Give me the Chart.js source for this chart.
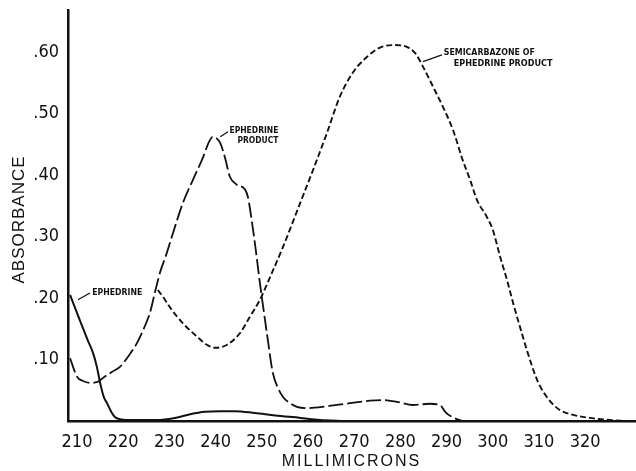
<!DOCTYPE html>
<html>
<head>
<meta charset="utf-8">
<script src="https://cdn.jsdelivr.net/npm/chart.js@4.4.1/dist/chart.umd.min.js"></script>
<style>
  html, body { margin: 0; padding: 0; background: #ffffff; }
  #wrap { width: 636px; height: 471px; }
</style>
</head>
<body>
<div id="wrap"><canvas id="c" width="636" height="471"></canvas></div>
<script>
// ---- Data (wavelength in millimicrons, absorbance) ----
const ephedrineWl = [208.5, 210.6, 212.4, 213.5, 214.3, 215.0, 215.8, 216.5, 217.4, 218.2, 220.0, 223.6, 227.3, 231.2, 234.5, 237.7, 241.0, 244.2, 248.5, 252.9, 258.3, 262.6, 268.0];
const ephedrineAbs = [0.205, 0.164, 0.130, 0.110, 0.088, 0.062, 0.039, 0.029, 0.015, 0.0065, 0.002, 0.0015, 0.0015, 0.005, 0.011, 0.015, 0.016, 0.016, 0.013, 0.009, 0.005, 0.0015, 0.0];

const productWl = [208.5, 210.0, 211.3, 212.8, 214.3, 215.6, 217.6, 219.3, 221.0, 223.0, 224.5, 225.8, 226.9, 228.0, 229.3, 230.8, 232.9, 235.1, 237.3, 238.6, 239.4, 240.3, 241.0, 242.0, 243.1, 244.6, 246.4, 247.0, 247.9, 248.7, 249.6, 250.0, 251.1, 252.4, 253.5, 254.6, 256.1, 257.6, 259.8, 264.1, 269.1, 273.4, 276.2, 279.3, 282.7, 286.4, 288.6, 289.7, 291.2, 293.5];
const productAbs = [0.102, 0.072, 0.065, 0.062, 0.063, 0.070, 0.080, 0.088, 0.104, 0.127, 0.151, 0.176, 0.210, 0.242, 0.270, 0.306, 0.354, 0.392, 0.429, 0.454, 0.462, 0.459, 0.452, 0.429, 0.397, 0.384, 0.376, 0.364, 0.322, 0.278, 0.224, 0.202, 0.143, 0.078, 0.054, 0.039, 0.029, 0.023, 0.021, 0.024, 0.029, 0.033, 0.034, 0.031, 0.026, 0.028, 0.026, 0.015, 0.0065, 0.0];

const semicarbWl = [227.5, 228.8, 230.1, 232.9, 236.0, 238.1, 239.9, 242.5, 245.3, 247.4, 249.6, 251.8, 254.6, 258.3, 261.1, 264.1, 266.9, 269.7, 272.8, 275.6, 278.8, 281.4, 283.2, 284.9, 287.1, 289.2, 291.4, 293.5, 295.1, 296.6, 298.7, 300.0, 301.6, 303.1, 304.4, 305.9, 307.4, 309.6, 311.7, 314.5, 317.4, 321.0, 324.7, 329.0];
const semicarbAbs = [0.213, 0.200, 0.185, 0.159, 0.137, 0.124, 0.119, 0.124, 0.143, 0.169, 0.197, 0.234, 0.283, 0.354, 0.408, 0.468, 0.527, 0.566, 0.592, 0.607, 0.611, 0.608, 0.598, 0.576, 0.543, 0.511, 0.473, 0.424, 0.392, 0.359, 0.332, 0.311, 0.267, 0.229, 0.192, 0.153, 0.115, 0.067, 0.039, 0.018, 0.010, 0.005, 0.002, 0.0];

const xTickValues = [210, 220, 230, 240, 250, 260, 270, 280, 290, 300, 310, 320];
const yTickValues = [0.1, 0.2, 0.3, 0.4, 0.5, 0.6];
const yTickLabels = ['.10', '.20', '.30', '.40', '.50', '.60'];

const xTitle = 'MILLIMICRONS';
const yTitle = 'ABSORBANCE';

const annotations = [
  { lines: ['EPHEDRINE'], leader: [[210.2, 0.197], [212.8, 0.208]], at: [213.3, 0.209], widths: [50], align: 'left' },
  { lines: ['EPHEDRINE', 'PRODUCT'], leader: [[241.0, 0.462], [242.7, 0.470]], at: [243.0, 0.472], widths: [49, 41], align: 'rightblock' },
  { lines: ['SEMICARBAZONE OF', 'EPHEDRINE PRODUCT'], leader: [[284.9, 0.584], [289.0, 0.595]], at: [289.4, 0.598], widths: [91, 99], indent: [0, 10], align: 'left' }
];

// ---- helpers ----
function zip(xs, ys) { return xs.map((x, i) => ({ x: x, y: ys[i] })); }

const tickFont = "'Liberation Sans Narrow', 'Arial Narrow', 'DejaVu Sans Condensed', sans-serif";
const titleFont = "'Liberation Sans', Arial, Helvetica, sans-serif";
const noteFont = "'DejaVu Sans Condensed', 'Liberation Sans Narrow', sans-serif";

const titleSpacing = { x: '2px', y: '1px' };
const titleShift = { x: [0, 0], y: [9, 4] };

const patchTitles = {
  id: 'patchTitles',
  beforeDraw(chart) {
    ['x', 'y'].forEach(id => {
      const s = chart.scales[id];
      if (s && !s._patched) {
        const orig = s.drawTitle;
        s.drawTitle = function () {
          const ctx = this.ctx;
          ctx.save();
          try { ctx.letterSpacing = titleSpacing[id]; } catch (e) {}
          ctx.translate(titleShift[id][0], titleShift[id][1]);
          orig.apply(this, arguments);
          ctx.restore();
        };
        s._patched = true;
      }
    });
  }
};

const notesPlugin = {
  id: 'notes',
  afterDatasetsDraw(chart) {
    const ctx = chart.ctx;
    const xs = chart.scales.x, ys = chart.scales.y;
    ctx.save();
    annotations.forEach(a => {
      ctx.strokeStyle = '#111';
      ctx.lineWidth = 1.3;
      ctx.beginPath();
      ctx.moveTo(xs.getPixelForValue(a.leader[0][0]), ys.getPixelForValue(a.leader[0][1]));
      ctx.lineTo(xs.getPixelForValue(a.leader[1][0]), ys.getPixelForValue(a.leader[1][1]));
      ctx.stroke();
      ctx.fillStyle = '#111';
      ctx.font = 'bold 9px ' + noteFont;
      ctx.textBaseline = 'middle';
      const px = xs.getPixelForValue(a.at[0]);
      const py = ys.getPixelForValue(a.at[1]);
      a.lines.forEach((t, i) => {
        const w = a.widths[i];
        const y = py + i * 10.5;
        if (a.align === 'rightblock') {
          const right = px + a.widths[0];
          ctx.textAlign = 'right';
          ctx.fillText(t, right, y, w);
        } else {
          ctx.textAlign = 'left';
          const ind = a.indent ? a.indent[i] : 0;
          ctx.fillText(t, px + ind, y, w);
        }
      });
    });
    ctx.restore();
  }
};

const whiteBg = {
  id: 'whiteBg',
  beforeDraw(chart) {
    const ctx = chart.ctx;
    ctx.save();
    ctx.fillStyle = '#ffffff';
    ctx.fillRect(0, 0, chart.width, chart.height);
    ctx.restore();
  }
};

new Chart(document.getElementById('c'), {
  type: 'line',
  data: {
    datasets: [
      {
        label: 'Ephedrine',
        data: zip(ephedrineWl, ephedrineAbs),
        borderColor: '#111',
        borderWidth: 2,
        pointRadius: 0,
        cubicInterpolationMode: 'monotone',
        fill: false
      },
      {
        label: 'Ephedrine product',
        data: zip(productWl, productAbs),
        borderColor: '#111',
        borderWidth: 1.8,
        borderDash: [15, 4],
        pointRadius: 0,
        cubicInterpolationMode: 'monotone',
        fill: false
      },
      {
        label: 'Semicarbazone of ephedrine product',
        data: zip(semicarbWl, semicarbAbs),
        borderColor: '#111',
        borderWidth: 1.9,
        borderDash: [6, 3],
        pointRadius: 0,
        cubicInterpolationMode: 'monotone',
        fill: false
      }
    ]
  },
  options: {
    responsive: false,
    animation: false,
    devicePixelRatio: 1,
    layout: { padding: { left: 0, top: 10, right: 1, bottom: 0 } },
    plugins: { legend: { display: false }, tooltip: { enabled: false } },
    scales: {
      x: {
        type: 'linear',
        min: 208.05,
        max: 330.8,
        grid: { display: false, drawTicks: false },
        border: { display: true, color: '#111', width: 2.5 },
        afterBuildTicks: s => { s.ticks = xTickValues.map(v => ({ value: v })); },
        afterFit: s => { s.height = 50; },
        ticks: {
          color: '#111',
          padding: 11,
          maxRotation: 0,
          autoSkip: false,
          font: { family: tickFont, size: 18 },
          callback: v => String(v)
        },
        title: {
          display: true,
          text: xTitle,
          color: '#111',
          font: { family: titleFont, size: 16 },
          padding: { top: 0, bottom: 0 }
        }
      },
      y: {
        type: 'linear',
        min: 0,
        max: 0.668,
        grid: { display: false, drawTicks: false },
        border: { display: true, color: '#111', width: 2.5 },
        afterBuildTicks: s => { s.ticks = yTickValues.map(v => ({ value: v })); },
        afterFit: s => { s.width = 68; s.paddingTop = 0; s.paddingBottom = 0; },
        ticks: {
          color: '#111',
          padding: 9,
          autoSkip: false,
          font: { family: tickFont, size: 18 },
          callback: v => {
            const i = yTickValues.findIndex(t => Math.abs(t - v) < 1e-9);
            return i >= 0 ? yTickLabels[i] : '';
          }
        },
        title: {
          display: true,
          text: yTitle,
          color: '#111',
          font: { family: titleFont, size: 17 },
          padding: { top: 0, bottom: 0 }
        }
      }
    }
  },
  plugins: [whiteBg, patchTitles, notesPlugin]
});
</script>
</body>
</html>
